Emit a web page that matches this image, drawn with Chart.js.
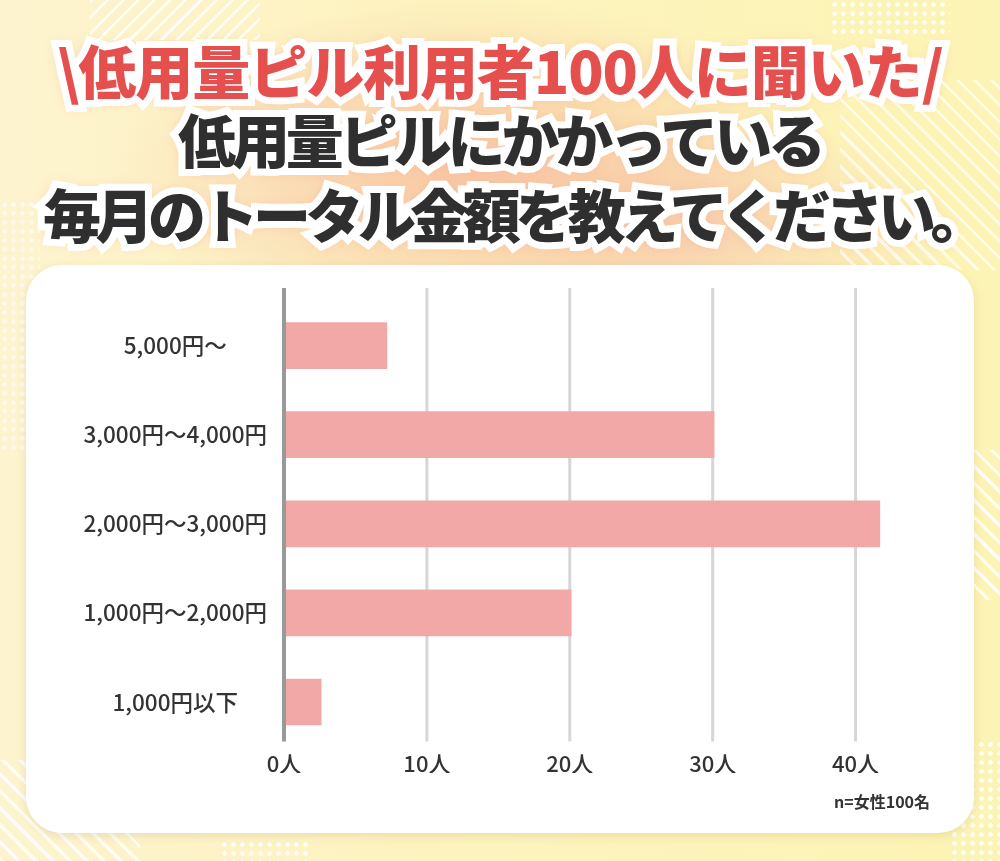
<!DOCTYPE html>
<html lang="ja">
<head>
<meta charset="utf-8">
<script src="https://cdn.jsdelivr.net/npm/chart.js@4"></script>
<style>
  html, body { margin: 0; padding: 0; }
  body {
    width: 1000px; height: 861px; overflow: hidden; position: relative;
    font-family: "Noto Sans CJK JP", "Noto Sans", sans-serif;
    background:
      radial-gradient(ellipse 360px 170px at 470px 170px, rgba(244,160,140,0.55), rgba(244,160,140,0) 100%),
      radial-gradient(ellipse 260px 120px at 700px 230px, rgba(246,180,170,0.45), rgba(246,180,170,0) 100%),
      linear-gradient(90deg, #fdf3cf 0%, #fdf3c0 40%, #fcf4b4 100%);
  }
  .deco { position: absolute; }
  .stripes { background: repeating-linear-gradient(135deg, rgba(255,255,255,0.75) 0 3px, rgba(255,255,255,0) 3px 11px); }
  .stripes2 { background: repeating-linear-gradient(45deg, rgba(255,255,255,0.8) 0 3px, rgba(255,255,255,0) 3px 12px); }
  .dots { background: radial-gradient(circle, rgba(255,255,255,0.85) 2px, rgba(255,255,255,0) 2.6px) 0 0 / 9px 9px; }
  .title {
    position: absolute; left: 0; width: 1000px; text-align: center;
    font-weight: 900; font-size: 58px; line-height: 1; white-space: nowrap;
  }
  .title span { position: relative; display: inline-block; }
  .title span::before {
    content: attr(data-t); position: absolute; left: 0; top: 0; z-index: -1;
    -webkit-text-stroke: 14px #ffffff; color: #ffffff;
    text-shadow: 0 0 14px rgba(235,120,120,0.55);
  }
  .red { color: #e5504e; }
  .dark { color: #2f2f2f; }
  #card {
    position: absolute; left: 26px; top: 265px; width: 948px; height: 568px;
    background: #ffffff; border-radius: 36px;
    box-shadow: 0 3px 10px rgba(150,130,60,0.18);
  }
  #note {
    position: absolute; left: 834px; top: 789px; font-size: 16px; font-weight: 600;
    color: #333333; white-space: nowrap;
  }
</style>
</head>
<body>
<div class="deco stripes" style="left:90px;top:0;width:170px;height:40px;"></div>
<div class="deco stripes2" style="left:840px;top:80px;width:160px;height:190px;opacity:.8;"></div>
<div class="deco stripes2" style="left:0;top:760px;width:140px;height:101px;"></div>
<div class="deco stripes2" style="left:970px;top:450px;width:30px;height:150px;"></div>
<div class="deco dots" style="left:0;top:200px;width:40px;height:250px;opacity:.7;"></div>
<div class="deco dots" style="left:830px;top:0;width:120px;height:35px;"></div>
<div class="deco dots" style="left:950px;top:740px;width:50px;height:121px;"></div>
<div class="deco dots" style="left:220px;top:840px;width:90px;height:21px;"></div>

<div class="title red" style="top:40px;"><span data-t="\低用量ピル利用者100人に聞いた/" data-w="886">\低用量ピル利用者100人に聞いた/</span></div>
<div class="title dark" style="top:109px;"><span data-t="低用量ピルにかかっている" data-w="644">低用量ピルにかかっている</span></div>
<div class="title dark" style="top:184px;"><span data-t="毎月のトータル金額を教えてください。" data-w="940" style="left:13px;">毎月のトータル金額を教えてください。</span></div>

<div id="card"><canvas id="chart" width="948" height="568"></canvas></div>
<div id="note">n=女性100名</div>

<script>
const categories = ['5,000円～', '3,000円～4,000円', '2,000円～3,000円', '1,000円～2,000円', '1,000円以下'];
const respondents = [7.2, 30.1, 41.7, 20.1, 2.6];
const tickValues = [0, 10, 20, 30, 40];
const tickUnit = '人';

// fit each title line to the width it has in the picture
document.querySelectorAll('.title span').forEach((el) => {
    const target = Number(el.dataset.w);
    const n = el.textContent.length;
    const w = el.getBoundingClientRect().width;
    el.parentElement.style.letterSpacing = ((target - w) / n) + 'px';
});

const gridLines = {
    id: 'gridLines',
    beforeDatasetsDraw(chart) {
        const { ctx, chartArea, scales: { x } } = chart;
        ctx.save();
        ctx.strokeStyle = '#d6d6d6';
        ctx.lineWidth = 3;
        x.ticks.forEach((t) => {
            if (t.value === 0) return;
            const px = x.getPixelForValue(t.value);
            ctx.beginPath();
            ctx.moveTo(px, chartArea.top - 13);
            ctx.lineTo(px, chartArea.bottom - 5);
            ctx.stroke();
        });
        ctx.restore();
    },
    afterDatasetsDraw(chart) {
        const { ctx, chartArea, scales: { x } } = chart;
        const px = x.getPixelForValue(0);
        ctx.save();
        ctx.strokeStyle = '#999999';
        ctx.lineWidth = 4;
        ctx.beginPath();
        ctx.moveTo(px, chartArea.top - 13);
        ctx.lineTo(px, chartArea.bottom - 5);
        ctx.stroke();
        ctx.restore();
    },
};

new Chart(document.getElementById('chart'), {
    type: 'bar',
    data: {
        labels: categories,
        datasets: [{
            data: respondents,
            backgroundColor: '#f1a8a7',
            barThickness: 46,
        }],
    },
    options: {
        indexAxis: 'y',
        responsive: false,
        animation: false,
        events: [],
        layout: { padding: { left: 0, top: 36, right: 47, bottom: 60 } },
        plugins: { legend: { display: false }, tooltip: { enabled: false } },
        scales: {
            x: {
                min: 0,
                max: 45,
                afterBuildTicks: (scale) => {
                    scale.ticks = tickValues.map((v) => ({ value: v }));
                },
                grid: { display: false },
                border: { display: false },
                ticks: {
                    padding: -4,
                    color: '#333333',
                    font: { family: '"Noto Sans CJK JP", sans-serif', size: 22, weight: 500 },
                    callback: (v) => v + tickUnit,
                },
            },
            y: {
                afterFit: (scale) => { scale.width = 258; },
                grid: { display: false, drawTicks: false },
                border: { display: false },
                ticks: {
                    crossAlign: 'center',
                    padding: 17,
                    color: '#333333',
                    font: { family: '"Noto Sans CJK JP", sans-serif', size: 22.5, weight: 500 },
                },
            },
        },
    },
    plugins: [gridLines],
});
</script>
</body>
</html>
